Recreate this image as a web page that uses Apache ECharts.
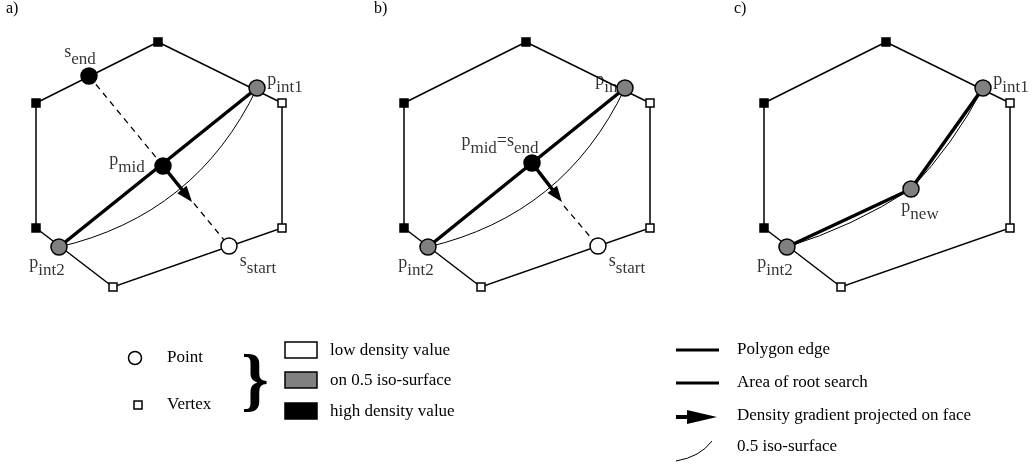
<!DOCTYPE html>
<html><head><meta charset="utf-8">
<script src="https://cdn.jsdelivr.net/npm/echarts@6/dist/echarts.min.js"></script>
<style>html,body{margin:0;padding:0;background:#fff}#c{width:1035px;height:468px}</style>
</head><body><div id="c"></div>
<script>
// ---------------- data ----------------
const panelNames = ['a)', 'b)', 'c)'];
const panelShift = [0, 368, 728];
const hexagon = [[158,42],[282,103],[282,228],[113,287],[36,228],[36,103]];
const vertexDensity = ['high','low','low','low','high','high'];

const pointNames = [
  ['s_{end}','p_{int1}','p_{mid}','p_{int2}','s_{start}'],
  ['p_{int1}','p_{mid}=s_{end}','p_{int2}','s_{start}'],
  ['p_{int1}','p_{new}','p_{int2}']
];
const pointXY = [
  [[89,76],[257,88],[163,166],[59,247],[229,246]],
  [[257,88],[164,163],[60,247],[230,246]],
  [[255,88],[183,189],[59,247]]
];
const pointDensity = [
  ['high','iso','high','iso','low'],
  ['iso','high','iso','low'],
  ['iso','iso','iso']
];
const rootSearch = [[[3,1]], [[2,0]], [[2,1],[1,0]]];       // pairs of point indexes
const isoSurface = [[[1,3]], [[0,2]], [[0,1],[1,2]]];
const isoBend = [0.24, 0.24, 0.07];
const gradient = [[[163,166],[192,202]], [[164,163],[194,202]], null];
const searchPath = [[[89,76],[229,246]], [[196,206],[230,246]], null];

const legendShapes = ['Point', 'Vertex'];
const legendDensity = ['low density value', 'on 0.5 iso-surface', 'high density value'];
const legendLines = ['Polygon edge', 'Area of root search', 'Density gradient projected on face', '0.5 iso-surface'];

// ---------------- layout / style ----------------
const FONT = '"Liberation Serif", "Times New Roman", serif';
const fillOf = {high:'#000000', iso:'#808080', low:'#ffffff'};
const labelOffset = [
  [[-9,-20],[28,-4],[-36,-2],[-12,20],[29,19]],
  [[-12,-4],[-32,-18],[-12,20],[29,19]],
  [[28,-4],[9,22],[-12,20]]
];
const HEAD = 16;

function richText(s) {
  return s.split(/(_\{[^}]*\})/).filter(t => t.length).map(t => {
    const m = t.match(/^_\{(.*)\}$/);
    return m ? '{sub|' + m[1] + '}' : '{base|' + t + '}';
  }).join('');
}
const shift = (p, dx) => [p[0] + dx, p[1]];

const series = [];
const common = {coordinateSystem: 'cartesian2d', silent: true, animation: false};

panelNames.forEach((nm, k) => {
  const dx = panelShift[k];
  const pts = pointXY[k].map(p => shift(p, dx));
  if (searchPath[k]) {
    series.push(Object.assign({type:'lines', z:1, symbol:'none',
      lineStyle:{color:'#000', width:1.3, type:[6,5], opacity:1},
      data:[{coords: searchPath[k].map(p => shift(p, dx))}]}, common));
  }
  const hex = hexagon.map(p => shift(p, dx));
  series.push(Object.assign({type:'lines', polyline:true, z:2, symbol:'none',
    lineStyle:{color:'#000', width:1.5, opacity:1},
    data:[{coords: hex.concat([hex[0]])}]}, common));
  series.push(Object.assign({type:'lines', z:2, symbol:'none',
    lineStyle:{color:'#000', width:1, opacity:1, curveness: isoBend[k]},
    data: isoSurface[k].map(([i,j]) => ({coords:[pts[i], pts[j]]}))}, common));
  series.push(Object.assign({type:'lines', z:3, symbol:'none',
    lineStyle:{color:'#000', width:3.5, opacity:1},
    data: rootSearch[k].map(([i,j]) => ({coords:[pts[i], pts[j]]}))}, common));
  if (gradient[k]) {
    const a = shift(gradient[k][0], dx), b = shift(gradient[k][1], dx);
    const L = Math.hypot(b[0]-a[0], b[1]-a[1]);
    const c = [b[0] - (b[0]-a[0]) / L * HEAD/2, b[1] - (b[1]-a[1]) / L * HEAD/2];
    series.push(Object.assign({type:'lines', z:3, symbol:['none','triangle'], symbolSize:[1,[12,HEAD]],
      lineStyle:{color:'#000', width:3.5, opacity:1},
      itemStyle:{color:'#000', opacity:1},
      data:[{coords:[a, c]}]}, common));
  }
  series.push(Object.assign({type:'scatter', z:4, symbolSize:1, itemStyle:{color:'rgba(0,0,0,0)'},
    data: pts.map((p, i) => ({value:p, label:{show:true, position:'inside', offset:labelOffset[k][i],
      formatter: () => richText(pointNames[k][i])}})),
    label:{color:'#000', textBorderWidth:0, rich:{
      base:{fontFamily:FONT, fontSize:18, color:'#000', padding:[0,0,7,0]},
      sub:{fontFamily:FONT, fontSize:17, color:'#000', padding:[7,0,0,0]}}}}, common));
  series.push(Object.assign({type:'scatter', z:5, symbol:'rect', symbolSize:8,
    data: hex.map((p, i) => ({value:p, itemStyle:{color: fillOf[vertexDensity[i]], borderColor:'#000', borderWidth:1.5, opacity:1}}))}, common));
  series.push(Object.assign({type:'scatter', z:6, symbol:'circle', symbolSize:16,
    data: pts.map((p, i) => ({value:p, itemStyle:{color: fillOf[pointDensity[k][i]], borderColor:'#000', borderWidth:1.5, opacity:1}}))}, common));
});

// ---------------- legend (graphic) ----------------
const txt = (x, y, s, size) => ({type:'text', x, y, silent:true,
  style:{text:s, font: (size||17) + 'px ' + FONT, fill:'#000', align:'left', verticalAlign:'middle'}});
const g = [];
panelNames.forEach((nm, k) => g.push(txt(panelShift[k] + 6, 9, nm, 16)));
g.push({type:'circle', shape:{cx:135, cy:358, r:6.5}, style:{fill:'#fff', stroke:'#000', lineWidth:1.5}});
g.push({type:'rect', shape:{x:134, y:401, width:8, height:8}, style:{fill:'#fff', stroke:'#000', lineWidth:1.5}});
legendShapes.forEach((s, i) => g.push(txt(167, [358,405][i], s)));
g.push({type:'text', x:255, y:385, style:{text:'}', font:'bold 70px ' + FONT, fill:'#000', align:'center', verticalAlign:'middle'}});
['low','iso','high'].forEach((d, i) => {
  g.push({type:'rect', shape:{x:285, y:[342,372,403][i], width:32, height:16}, style:{fill:fillOf[d], stroke:'#000', lineWidth:1.5}});
  g.push(txt(330, [351,381,412][i], legendDensity[i]));
});
g.push({type:'line', shape:{x1:676, y1:350, x2:719, y2:350}, style:{stroke:'#000', lineWidth:3}});
g.push({type:'line', shape:{x1:676, y1:383, x2:719, y2:383}, style:{stroke:'#000', lineWidth:3}});
g.push({type:'line', shape:{x1:676, y1:417, x2:692, y2:417}, style:{stroke:'#000', lineWidth:4}});
g.push({type:'polygon', shape:{points:[[687,410],[717,417],[687,424]]}, style:{fill:'#000'}});
g.push({type:'bezierCurve', shape:{x1:676, y1:461, x2:712, y2:441, cpx1:700, cpy1:457}, style:{stroke:'#000', lineWidth:1, fill:null}});
legendLines.forEach((s, i) => g.push(txt(737, [350,383,416,447][i], s)));

const chart = echarts.init(document.getElementById('c'), null, {renderer:'canvas'});
chart.setOption({
  backgroundColor:'#fff',
  animation:false,
  grid:{left:0, right:0, top:0, bottom:0},
  xAxis:{type:'value', min:0, max:1035, show:false},
  yAxis:{type:'value', min:0, max:468, inverse:true, show:false},
  series,
  graphic: g
});
</script></body></html>
